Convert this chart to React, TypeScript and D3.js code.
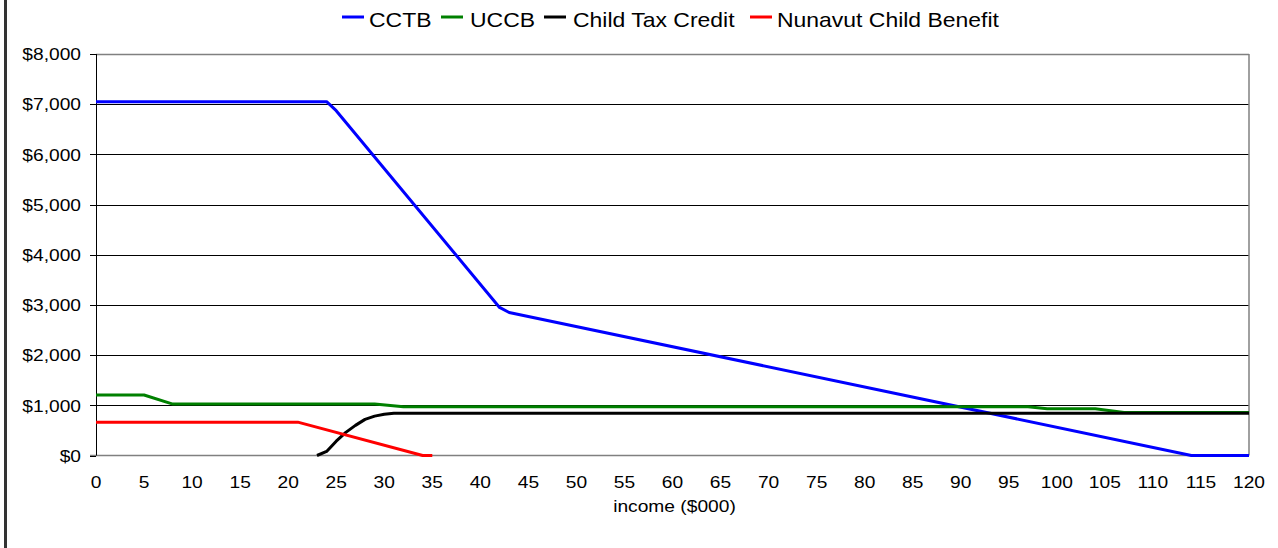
import React from "react";
import * as d3 from "d3";

type Pt = [number, number];

const seriesNames = ["CCTB", "UCCB", "Child Tax Credit", "Nunavut Child Benefit"];
const seriesColors = ["#0000ff", "#008000", "#000000", "#ff0000"];

const cctb: Pt[] = [[0, 7050], [24, 7050], [25, 6870], [42, 2950], [43, 2850], [114, 0], [120, 0]];
const uccb: Pt[] = [[0, 1205], [5, 1205], [8, 1025], [29, 1025], [32, 970], [97, 970], [99, 930], [104, 930], [107, 858], [120, 858]];
const childTaxCredit: Pt[] = [[23, 0], [24, 80], [25, 285], [26, 460], [27, 600], [28, 720], [29, 785], [30, 820], [31, 840], [120, 840]];
const nunavut: Pt[] = [[0, 665], [21, 665], [34, 0], [35, 0]];

const allSeries = [cctb, uccb, childTaxCredit, nunavut];

const xTicks = d3.range(0, 121, 5);
const yTicks = d3.range(0, 8001, 1000);

const W = 1278, H = 548;
const L = 96, R = 1249, T = 54, B = 455.5;
const SX = 1.13;

const legendSwatchX = [342, 441, 544, 750];
const legendTextX = [369, 470, 573, 777];

function SText(props: { x: number; y: number; anchor?: string; size: number; children: React.ReactNode; sx?: number }) {
  const { x, y, anchor = "start", size, children, sx = SX } = props;
  return (
    <text
      transform={`translate(${x},${y}) scale(${sx},1)`}
      textAnchor={anchor}
      fontFamily="'Liberation Sans', Arial, sans-serif"
      fontSize={size}
      fill="#000"
    >
      {children}
    </text>
  );
}

export default function App() {
  const x = d3.scaleLinear().domain([0, 120]).range([L, R]);
  const y = d3.scaleLinear().domain([0, 8000]).range([B, T]);
  const line = d3.line<Pt>().x((d) => x(d[0])).y((d) => y(d[1]));

  return (
    <svg width={W} height={H} style={{ position: "absolute", left: 0, top: 0, background: "#fff" }}>
      <rect x={0} y={0} width={W} height={H} fill="#fff" />
      <line x1={5.5} x2={5.5} y1={0} y2={H} stroke="#333" strokeWidth={3} />
      {yTicks.filter((t) => t > 0 && t < 8000).map((t) => (
        <line key={t} x1={L} x2={R} y1={Math.round(y(t)) + 0.5} y2={Math.round(y(t)) + 0.5} stroke="#000" strokeWidth={1} />
      ))}
      <line x1={L} x2={R} y1={T + 0.5} y2={T + 0.5} stroke="#808080" strokeWidth={1.5} />
      <line x1={R} x2={R} y1={T} y2={B} stroke="#808080" strokeWidth={1.5} />
      <line x1={L - 6} x2={R} y1={B} y2={B} stroke="#808080" strokeWidth={1.5} />
      <line x1={L + 0.5} x2={L + 0.5} y1={T} y2={B} stroke="#000" strokeWidth={1} />
      {yTicks.map((t) => (
        <line key={"yt" + t} x1={L - 6} x2={L} y1={Math.round(y(t)) + 0.5} y2={Math.round(y(t)) + 0.5} stroke="#000" strokeWidth={1} />
      ))}
      {yTicks.map((t) => (
        <SText key={"yl" + t} x={81} y={y(t) + 6.3} anchor="end" size={17}>
          {d3.format("$,")(t)}
        </SText>
      ))}
      {xTicks.map((t) => (
        <SText key={"xl" + t} x={x(t)} y={488} anchor="middle" size={17}>
          {String(t)}
        </SText>
      ))}
      <SText x={(L + R) / 2 + 2} y={512} anchor="middle" size={17}>
        income ($000)
      </SText>
      {allSeries.map((s, i) => (
        <path key={seriesNames[i]} d={line(s) || ""} fill="none" stroke={seriesColors[i]} strokeWidth={3} strokeLinejoin="round" />
      ))}
      {seriesNames.map((n, i) => (
        <g key={"lg" + n}>
          <line x1={legendSwatchX[i]} x2={legendSwatchX[i] + 22} y1={17} y2={17} stroke={seriesColors[i]} strokeWidth={3} />
          <SText x={legendTextX[i]} y={26.5} size={20.5} sx={1.12}>
            {n}
          </SText>
        </g>
      ))}
    </svg>
  );
}
